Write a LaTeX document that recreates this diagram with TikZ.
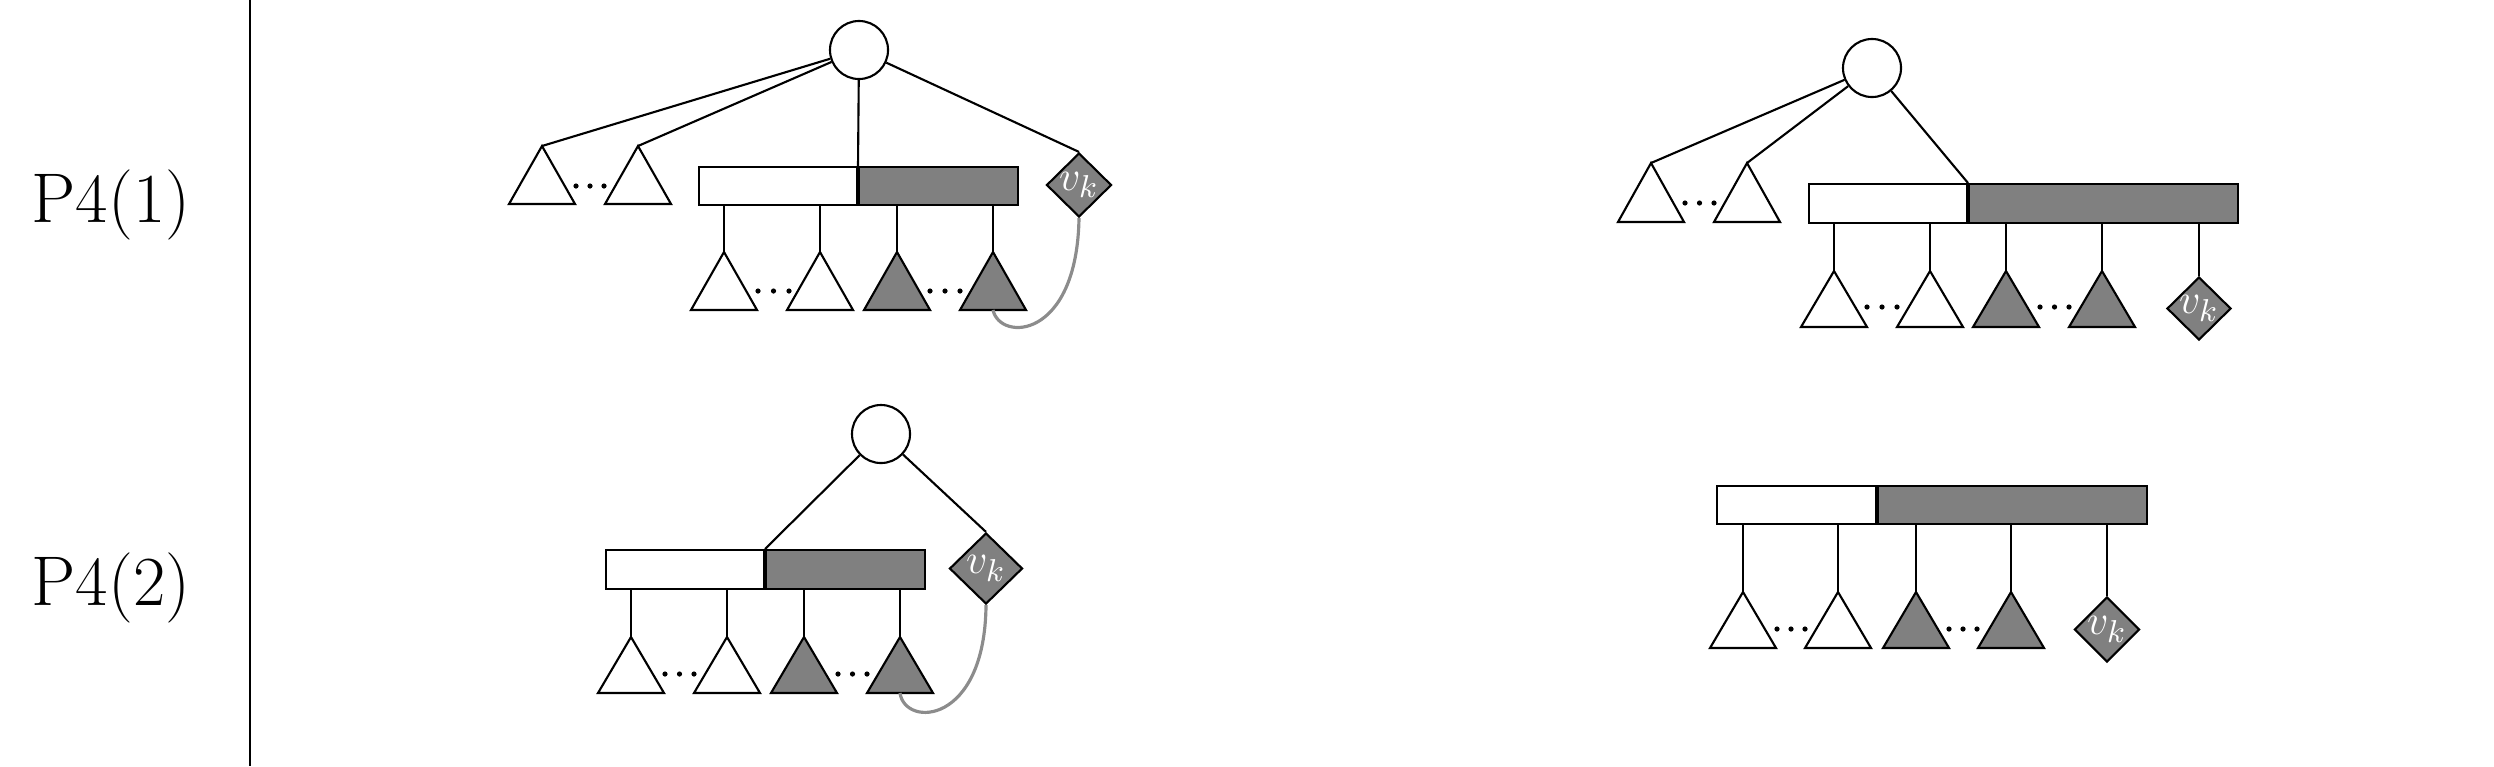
\documentclass[tikz,border=0pt]{standalone}
\usetikzlibrary{shapes.geometric}
\tikzset{
  wbox/.style={draw, fill=white, rectangle, inner sep=0pt},
  gbox/.style={draw, fill=gray, rectangle, inner sep=0pt},
  circ/.style={draw, fill=white, circle, inner sep=0pt, minimum size=0.58cm},
  vkd/.style={draw, fill=gray, diamond, inner sep=0pt},
  vklab/.style={text=white, inner sep=0pt, font=\fontsize{13}{15}\selectfont},
  rowlab/.style={anchor=base, inner sep=0pt, font=\fontsize{20}{24}\selectfont},
  link/.style={draw, line width=0.6pt},
  curv/.style={draw=gray!90, line width=0.9pt},
}
\newcommand\mytri[6]{\coordinate (#1) at (#2,#3);
  \draw[fill=#6, line width=0.6pt] (#1) -- ++(-#4,#5) -- ++(2*#4,0) -- cycle;}
\newcommand\mydots[3]{\fill (#1,#3) circle (2.6) (#1+#2,#3) circle (2.6) (#1+2*#2,#3) circle (2.6);}
\begin{document}
\begin{tikzpicture}[x=0.01cm, y=-0.01cm, line width=0.6pt]
\useasboundingbox (0,0) rectangle (2494,766);
% separator and row labels
\coordinate (septop) at (250,0);
\coordinate (sepbot) at (250,766);
\draw[line width=0.8pt] (septop) -- (sepbot);
\node[rowlab] (l1) at (111,222) {P4(1)};
\node[rowlab] (l2) at (111,605) {P4(2)};

% ===== top-left =====
\node[circ] (c1) at (859,50) {};
\node[wbox, minimum width=1.58cm, minimum height=0.38cm, anchor=north east] (r1w) at (858,166) {};
\node[gbox, minimum width=1.59cm, minimum height=0.38cm, anchor=north west] (r1g) at (858,166) {};
\node[vkd, minimum width=0.65cm, minimum height=0.64cm] (d1) at (1079,185) {};
\node[vklab] (d1t) at (1079,185) {$v_k$};
\mytri{a1}{542}{146}{33}{58}{white}
\mytri{a2}{638}{146}{33}{58}{white}
\mydots{576}{14}{186}
\mytri{a3}{724}{252}{33}{58}{white}
\mytri{a4}{820}{252}{33}{58}{white}
\mytri{a5}{897}{252}{33}{58}{gray}
\mytri{a6}{993}{252}{33}{58}{gray}
\coordinate (a6b) at (993,310);
\mydots{758}{15.5}{291}
\mydots{930}{15}{291}
\draw[link] (c1) -- (a1);
\draw[link] (c1) -- (a2);
\draw[link] (c1) -- (r1w.north east);
\draw[link] (c1) -- (d1.north);
\foreach \t in {a3,a4,a5,a6} \draw[link] (\t) -- (\t |- r1w.south);
\draw[curv] (a6b) .. controls (1000,342) and (1077,340) .. (d1.south);

% ===== top-right =====
\node[circ] (c2) at (1872,68) {};
\node[wbox, minimum width=1.58cm, minimum height=0.39cm, anchor=north east] (r2w) at (1968,183) {};
\node[gbox, minimum width=2.69cm, minimum height=0.39cm, anchor=north west] (r2g) at (1968,183) {};
\node[vkd, minimum width=0.64cm, minimum height=0.63cm] (d2) at (2199,308.5) {};
\node[vklab] (d2t) at (2199,308.5) {$v_k$};
\mytri{b1}{1651}{163}{33}{59}{white}
\mytri{b2}{1747}{163}{33}{59}{white}
\mydots{1685}{14.5}{203}
\mytri{b3}{1834}{271}{33}{56}{white}
\mytri{b4}{1930}{271}{33}{56}{white}
\mytri{b5}{2006}{271}{33}{56}{gray}
\mytri{b6}{2102}{271}{33}{56}{gray}
\mydots{1867}{15}{307}
\mydots{2040}{14.5}{307}
\draw[link] (c2) -- (b1);
\draw[link] (c2) -- (b2);
\draw[link] (c2) -- (r2w.north east);
\foreach \t in {b3,b4,b5,b6} \draw[link] (\t) -- (\t |- r2w.south);
\draw[link] (d2.north) -- (d2.north |- r2g.south);

% ===== bottom-left =====
\node[circ] (c3) at (881,434) {};
\node[wbox, minimum width=1.58cm, minimum height=0.39cm, anchor=north east] (r3w) at (765,549) {};
\node[gbox, minimum width=1.59cm, minimum height=0.39cm, anchor=north west] (r3g) at (765,549) {};
\node[vkd, minimum width=0.73cm, minimum height=0.71cm] (d3) at (986,568.5) {};
\node[vklab] (d3t) at (986,568.5) {$v_k$};
\mytri{e3}{631}{637}{33}{56}{white}
\mytri{e4}{727}{637}{33}{56}{white}
\mytri{e5}{804}{637}{33}{56}{gray}
\mytri{e6}{900}{637}{33}{56}{gray}
\coordinate (e6b) at (900,693);
\mydots{665}{14.5}{674}
\mydots{838}{14.5}{674}
\draw[link] (c3) -- (r3w.north east);
\draw[link] (c3) -- (d3.north);
\foreach \t in {e3,e4,e5,e6} \draw[link] (\t) -- (\t |- r3w.south);
\draw[curv] (e6b) .. controls (905,728) and (985,725) .. (d3.south);

% ===== bottom-right =====
\node[wbox, minimum width=1.59cm, minimum height=0.38cm, anchor=north east] (r4w) at (1877,485) {};
\node[gbox, minimum width=2.69cm, minimum height=0.38cm, anchor=north west] (r4g) at (1877,485) {};
\node[vkd, minimum width=0.65cm, minimum height=0.65cm] (d4) at (2107,629.5) {};
\node[vklab] (d4t) at (2107,629.5) {$v_k$};
\mytri{f3}{1743}{592}{33}{56}{white}
\mytri{f4}{1838}{592}{33}{56}{white}
\mytri{f5}{1916}{592}{33}{56}{gray}
\mytri{f6}{2011}{592}{33}{56}{gray}
\mydots{1777}{14}{629}
\mydots{1949}{14}{629}
\foreach \t in {f3,f4,f5,f6} \draw[link] (\t) -- (\t |- r4w.south);
\draw[link] (d4.north) -- (d4.north |- r4g.south);
\end{tikzpicture}
\end{document}
